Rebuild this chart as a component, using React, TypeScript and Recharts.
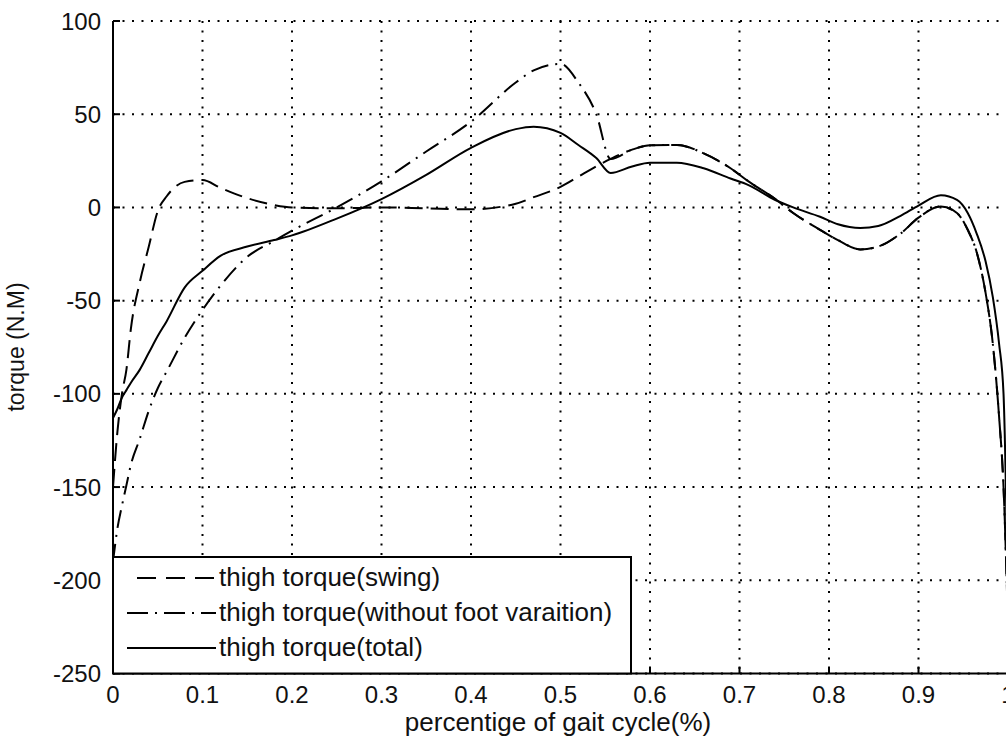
import React from 'react';
import { LineChart, Line, XAxis, YAxis, CartesianGrid } from 'recharts';

const gaitX = [0, 0.005, 0.01, 0.015, 0.02, 0.03, 0.04, 0.05, 0.06, 0.08, 0.1, 0.12, 0.15, 0.18, 0.2, 0.25, 0.3, 0.35, 0.4, 0.45, 0.47, 0.5, 0.52, 0.54, 0.556, 0.58, 0.6, 0.63, 0.66, 0.69, 0.71, 0.74, 0.76, 0.79, 0.81, 0.835, 0.855, 0.88, 0.9, 0.925, 0.943, 0.955, 0.965, 0.975, 0.983, 0.99, 0.995, 1.0];

const swingTorque = [-150, -120, -100, -87, -65, -40, -21, -2, 6, 13.7, 14.7, 10.5, 5, 1.3, 0, -0.5, 0, -0.5, -1, 2, 5.5, 11, 16.5, 22, 26, 31, 33.3, 33.5, 29, 21, 14, 4.5, -3, -12, -17.5, -22.5, -21, -14, -5.5, 0.5, -3, -12, -24, -46, -73, -112, -150, -225];

const noFootTorque = [-190, -172, -160, -149, -138, -124, -109, -97, -88, -70, -55, -42, -26.5, -18, -12.5, 0, 14, 30, 46, 67, 73.5, 77, 67, 50, 26, 31, 33.3, 33.5, 29, 21, 14, 4.5, -3, -12, -17.5, -22.5, -21, -14, -5.5, 0.5, -3, -12, -24, -46, -73, -112, -150, -225];

const totalTorque = [-113, -108, -102, -98, -94, -87, -78, -69, -61, -43, -34, -26, -21, -17.5, -15, -6, 4.5, 17.5, 32, 42, 43.3, 40, 33.5, 26.5, 18.5, 22, 24, 24, 21, 15.5, 12, 4, 0, -5, -9, -11, -10, -4.5, 1, 6.5, 4, -3, -14, -29, -48, -73, -100, -212];

const xTicks = [0, 0.1, 0.2, 0.3, 0.4, 0.5, 0.6, 0.7, 0.8, 0.9, 1];
const yTicks = [-250, -200, -150, -100, -50, 0, 50, 100];

const seriesNames = ['thigh torque(swing)', 'thigh torque(without foot varaition)', 'thigh torque(total)'];
const xLabel = 'percentige of gait cycle(%)';
const yLabel = 'torque (N.M)';

const data = gaitX.map((x, i) => ({
  x,
  swing: swingTorque[i],
  noFoot: noFootTorque[i],
  total: totalTorque[i],
}));

const FONT = '"Liberation Sans", Arial, Helvetica, sans-serif';
const TICK_LEN = 7;
const DASH = '18 8';
const DASH_DOT = '18 7 2 7';

const fmtX = (v: number) => (v === 0 ? '0' : v === 1 ? '1' : v.toFixed(1));

function BottomTick(props: any) {
  const { x, y, payload } = props;
  return (
    <g>
      <line x1={x} x2={x} y1={y} y2={y - TICK_LEN} stroke="#000" strokeWidth={2} />
      <text x={x} y={y + 29.5} textAnchor="middle" fontSize={24} fontFamily={FONT} fill="#111">
        {fmtX(payload.value)}
      </text>
    </g>
  );
}

function TopTick(props: any) {
  const { x, y } = props;
  return <line x1={x} x2={x} y1={y} y2={y + TICK_LEN} stroke="#000" strokeWidth={2} />;
}

function LeftTick(props: any) {
  const { x, y, payload } = props;
  return (
    <g>
      <line x1={x} x2={x + TICK_LEN} y1={y} y2={y} stroke="#000" strokeWidth={2} />
      <text x={x - 12} y={y + 8.5} textAnchor="end" fontSize={24} fontFamily={FONT} fill="#111">
        {String(payload.value)}
      </text>
    </g>
  );
}

function RightTick(props: any) {
  const { x, y } = props;
  return <line x1={x} x2={x - TICK_LEN} y1={y} y2={y} stroke="#000" strokeWidth={2} />;
}

export default function App() {
  return (
    <div style={{ position: 'fixed', left: 0, top: 0, width: 1006, height: 744, overflow: 'hidden', background: '#fff' }}>
      <LineChart width={1013} height={744} data={data} margin={{ top: 21, right: 5, bottom: 0, left: 0 }}>
        <CartesianGrid stroke="#000" strokeWidth={2} strokeDasharray="2 7.5" />
        <XAxis
          dataKey="x"
          type="number"
          domain={[0, 1]}
          ticks={xTicks}
          allowDataOverflow
          height={70.5}
          tickSize={0}
          tickMargin={0}
          tickLine={false}
          axisLine={{ stroke: '#000', strokeWidth: 2 }}
          tick={<BottomTick />}
          interval={0}
        />
        <XAxis
          xAxisId="top"
          orientation="top"
          dataKey="x"
          type="number"
          domain={[0, 1]}
          ticks={xTicks}
          allowDataOverflow
          height={0}
          tickSize={0}
          tickMargin={0}
          tickLine={false}
          axisLine={{ stroke: '#000', strokeWidth: 2 }}
          tick={<TopTick />}
          interval={0}
        />
        <YAxis
          type="number"
          domain={[-250, 100]}
          ticks={yTicks}
          allowDataOverflow
          width={113}
          tickSize={0}
          tickMargin={0}
          tickLine={false}
          axisLine={{ stroke: '#000', strokeWidth: 2 }}
          tick={<LeftTick />}
          interval={0}
        />
        <YAxis
          yAxisId="right"
          orientation="right"
          type="number"
          domain={[-250, 100]}
          ticks={yTicks}
          allowDataOverflow
          width={0}
          tickSize={0}
          tickMargin={0}
          tickLine={false}
          axisLine={{ stroke: '#000', strokeWidth: 2 }}
          tick={<RightTick />}
          interval={0}
        />
        <Line
          dataKey="swing"
          name={seriesNames[0]}
          type="monotone"
          stroke="#000"
          strokeWidth={2}
          strokeDasharray={DASH}
          dot={false}
          isAnimationActive={false}
        />
        <Line
          dataKey="noFoot"
          name={seriesNames[1]}
          type="monotone"
          stroke="#000"
          strokeWidth={2}
          strokeDasharray={DASH_DOT}
          dot={false}
          isAnimationActive={false}
        />
        <Line
          dataKey="total"
          name={seriesNames[2]}
          type="monotone"
          stroke="#000"
          strokeWidth={2}
          dot={false}
          isAnimationActive={false}
        />
      </LineChart>
      <svg width={1006} height={744} style={{ position: 'absolute', left: 0, top: 0, pointerEvents: 'none' }}>
        <rect x={113} y={557} width={518} height={116.5} fill="#fff" stroke="#000" strokeWidth={2} />
        <line x1={137} x2={216} y1={578} y2={578} stroke="#000" strokeWidth={2} strokeDasharray="19 10" />
        <line x1={127} x2={216} y1={613} y2={613} stroke="#000" strokeWidth={2} strokeDasharray="21 7 2 7" />
        <line x1={127} x2={216} y1={648} y2={648} stroke="#000" strokeWidth={2} />
        {seriesNames.map((n, i) => (
          <text key={n} x={219} y={586 + i * 35} fontSize={26} fontFamily={FONT} fill="#111">
            {n}
          </text>
        ))}
        <text x={558} y={731} textAnchor="middle" fontSize={26} fontFamily={FONT} fill="#111">
          {xLabel}
        </text>
        <text
          x={16}
          y={347}
          textAnchor="middle"
          dominantBaseline="central"
          fontSize={23}
          fontFamily={FONT}
          fill="#111"
          transform="rotate(-90 16 347)"
        >
          {yLabel}
        </text>
      </svg>
    </div>
  );
}
